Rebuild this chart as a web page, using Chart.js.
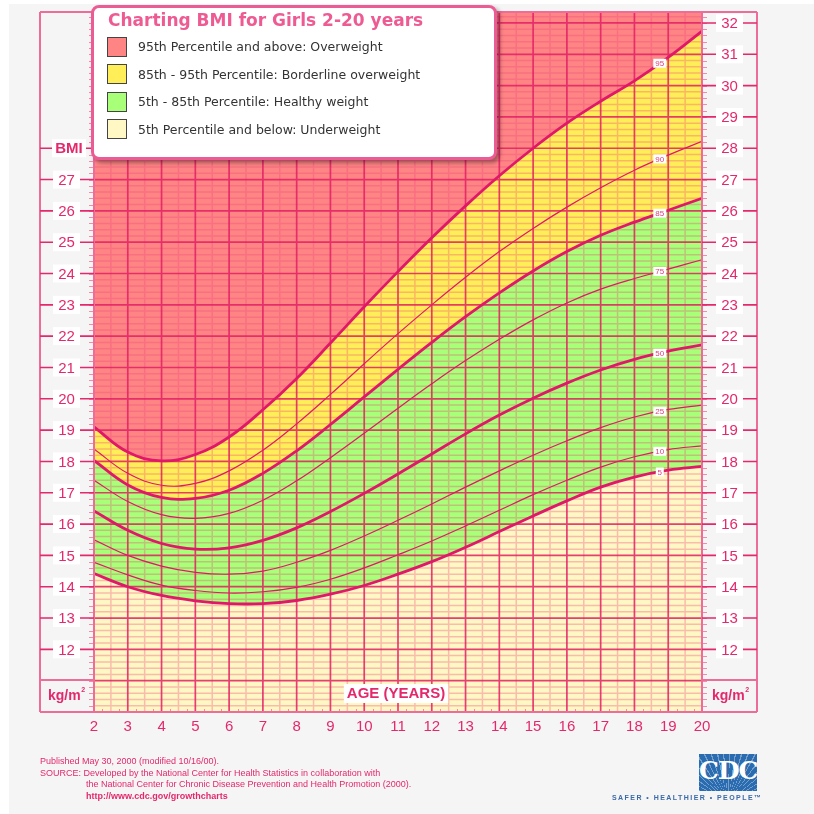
<!DOCTYPE html>
<html>
<head>
<meta charset="utf-8">
<title>Charting BMI for Girls 2-20 years</title>
<script src="https://cdn.jsdelivr.net/npm/chart.js@4.4.1/dist/chart.umd.min.js"></script>
<style>
body { margin:0; width:814px; height:814px; overflow:hidden; position:relative; background:#fff; font-family:"Liberation Sans", Arial, sans-serif; }
#page { position:absolute; left:9px; top:4px; right:0; bottom:0; background:#f5f5f5; }
#wrap { position:absolute; left:0; top:0; width:814px; height:814px; }
#legendBox { position:absolute; left:91px; top:5px; width:400px; height:149px; background:#fff; border:3px solid #ec5c94; border-radius:8px; box-shadow:3px 3px 4px rgba(0,0,0,0.35); font-family:"DejaVu Sans", Verdana, sans-serif; }
#legendBox .title { position:absolute; left:14px; top:2px; font-weight:bold; font-size:17px; line-height:20px; color:#ee5a92; white-space:nowrap; }
#legendBox .row { position:absolute; left:13px; height:21px; display:flex; align-items:center; font-size:12.5px; color:#333; white-space:nowrap; }
#legendBox .sw { width:18px; height:18px; border:1.5px solid #444; margin-right:11px; }
#footer { position:absolute; left:40px; top:756px; font-size:9px; line-height:11.7px; color:#e4286c; white-space:nowrap; }
#footer .ind { padding-left:46px; }
#cdc { position:absolute; left:699px; top:754px; width:58px; height:37px; background:#2b6cb0; overflow:hidden;
  background-image:repeating-conic-gradient(from 200deg at 50% 130%, rgba(255,255,255,0.35) 0deg 1.5deg, transparent 1.5deg 7deg); }
#cdc span { position:absolute; left:0; right:0; top:2px; text-align:center; font-family:"DejaVu Serif", "Liberation Serif", serif; font-weight:bold; font-size:25px; color:#fff; letter-spacing:-1px; }
#tag { position:absolute; left:612px; top:794px; font-weight:bold; font-size:7px; letter-spacing:1.45px; color:#3a6aa8; white-space:nowrap; }
</style>
</head>
<body>
<div id="page"></div>
<div id="wrap"><canvas id="bmiChart"></canvas></div>

<div id="legendBox">
  <div class="title">Charting BMI for Girls 2-20 years</div>
  <div class="row" style="top:28px"><div class="sw" style="background:#ff8585"></div>95th Percentile and above: Overweight</div>
  <div class="row" style="top:55.5px"><div class="sw" style="background:#ffee58"></div>85th - 95th Percentile: Borderline overweight</div>
  <div class="row" style="top:83px"><div class="sw" style="background:#a8ff78"></div>5th - 85th Percentile: Healthy weight</div>
  <div class="row" style="top:110.5px"><div class="sw" style="background:#fff7c4"></div>5th Percentile and below: Underweight</div>
</div>

<div id="footer">
  <div>Published May 30, 2000 (modified 10/16/00).</div>
  <div>SOURCE: Developed by the National Center for Health Statistics in collaboration with</div>
  <div class="ind">the National Center for Chronic Disease Prevention and Health Promotion (2000).</div>
  <div class="ind" style="font-weight:bold">http://www.cdc.gov/growthcharts</div>
</div>
<div id="cdc"><span>CDC</span></div>
<div id="tag">SAFER • HEALTHIER • PEOPLE™</div>

<script>
// age in years
var ages = [2, 3, 4, 5, 6, 7, 8, 9, 10, 11, 12, 13, 14, 15, 16, 17, 18, 19, 20];

// BMI percentiles, girls
var p5  = [14.42, 14.00, 13.72, 13.55, 13.46, 13.46, 13.56, 13.76, 14.04, 14.40, 14.80, 15.26, 15.76, 16.26, 16.74, 17.18, 17.50, 17.72, 17.84];
var p10 = [14.78, 14.38, 14.05, 13.88, 13.80, 13.84, 13.98, 14.24, 14.60, 15.02, 15.46, 15.94, 16.44, 16.94, 17.40, 17.82, 18.15, 18.38, 18.50];
var p25 = [15.50, 15.00, 14.66, 14.46, 14.40, 14.50, 14.78, 15.16, 15.62, 16.12, 16.64, 17.18, 17.70, 18.20, 18.66, 19.08, 19.42, 19.66, 19.80];
var p50 = [16.42, 15.80, 15.38, 15.20, 15.24, 15.48, 15.88, 16.40, 16.98, 17.60, 18.24, 18.88, 19.48, 20.02, 20.50, 20.92, 21.26, 21.52, 21.72];
var p75 = [17.40, 16.72, 16.30, 16.18, 16.34, 16.76, 17.38, 18.12, 18.90, 19.70, 20.48, 21.22, 21.90, 22.52, 23.06, 23.50, 23.84, 24.14, 24.44];
var p85 = [18.03, 17.25, 16.85, 16.82, 17.08, 17.62, 18.34, 19.18, 20.06, 20.94, 21.80, 22.62, 23.38, 24.08, 24.70, 25.22, 25.64, 26.02, 26.40];
var p90 = [18.40, 17.62, 17.24, 17.30, 17.70, 18.36, 19.20, 20.14, 21.12, 22.08, 23.00, 23.88, 24.70, 25.44, 26.12, 26.74, 27.30, 27.78, 28.22];
var p95 = [19.10, 18.30, 18.02, 18.22, 18.78, 19.65, 20.65, 21.78, 22.94, 24.06, 25.14, 26.16, 27.12, 28.00, 28.80, 29.50, 30.15, 30.90, 31.74];

var pctNames = ['5', '10', '25', '50', '75', '85', '90', '95'];

// tick labels
var xTicks = [2, 3, 4, 5, 6, 7, 8, 9, 10, 11, 12, 13, 14, 15, 16, 17, 18, 19, 20];
var leftTicks = [12, 13, 14, 15, 16, 17, 18, 19, 20, 21, 22, 23, 24, 25, 26, 27];
var rightTicks = [12, 13, 14, 15, 16, 17, 18, 19, 20, 21, 22, 23, 24, 25, 26, 27, 28, 29, 30, 31, 32];

var PINK = '#e4286c';
var LINE = '#e0186a';

function pts(vals) {
    var out = [];
    for (var i = 0; i < ages.length; i++) out.push({x: ages[i], y: vals[i]});
    return out;
}

var series = [p5, p10, p25, p50, p75, p85, p90, p95];
var thick = [true, false, false, true, false, true, false, true];
var fills = [5, false, false, false, false, 7, false, 'end'];
var fillColors = ['#a8ff78', null, null, null, null, '#ffee58', null, '#ff8585'];

var datasets = [];
for (var i = 0; i < series.length; i++) {
    datasets.push({
        label: pctNames[i],
        data: pts(series[i]),
        borderColor: LINE,
        borderWidth: thick[i] ? 2.8 : 1.2,
        backgroundColor: fillColors[i] || 'transparent',
        fill: fills[i],
        pointRadius: 0,
        tension: 0.4
    });
}

// grid, frame and label drawing
var bmiPaper = {
    id: 'bmiPaper',
    beforeDraw: function(chart) {
        var a = chart.chartArea, c = chart.ctx;
        c.save();
        c.fillStyle = '#fff7c4';
        c.fillRect(a.left, a.top, a.right - a.left, a.bottom - a.top);
        c.restore();
    },
    beforeDatasetsDraw: function(chart) {
        // runs after the filler, so the grid sits on top of the colour bands
        var a = chart.chartArea, c = chart.ctx, xs = chart.scales.x, ys = chart.scales.y;
        var v, k, p;
        c.save();
        c.lineWidth = 1.5;
        c.strokeStyle = 'rgba(236,70,120,0.33)';
        c.beginPath();
        for (v = 2.5; v < 20; v += 1) {
            p = xs.getPixelForValue(v);
            c.moveTo(p, a.top); c.lineTo(p, a.bottom);
        }
        for (k = 51; k <= 161; k++) {
            if (k % 5 === 0) continue;
            p = ys.getPixelForValue(k / 5);
            c.moveTo(a.left, p); c.lineTo(a.right, p);
        }
        c.stroke();

        c.lineWidth = 1.7;
        c.strokeStyle = 'rgba(226,30,100,0.85)';
        c.beginPath();
        for (v = 2; v <= 20; v++) {
            p = xs.getPixelForValue(v);
            c.moveTo(p, a.top); c.lineTo(p, a.bottom);
        }
        for (v = 11; v <= 32; v++) {
            p = ys.getPixelForValue(v);
            c.moveTo(a.left, p); c.lineTo(a.right, p);
        }
        c.stroke();
        c.restore();
    },
    afterDatasetsDraw: function(chart) {
        // little percentile tags near age 18.75
        var c = chart.ctx, xs = chart.scales.x, ys = chart.scales.y;
        var at = 18.75;
        c.save();
        c.font = '8px "Liberation Sans", Arial, sans-serif';
        c.textAlign = 'center';
        c.textBaseline = 'middle';
        for (var i = 0; i < series.length; i++) {
            var s = series[i];
            var val = s[16] + (s[17] - s[16]) * (at - 18);
            var px = xs.getPixelForValue(at), py = ys.getPixelForValue(val);
            var w = pctNames[i].length > 1 ? 13 : 8;
            c.fillStyle = '#fff';
            c.fillRect(px - w / 2, py - 4.5, w, 9);
            c.fillStyle = '#e0407a';
            c.fillText(pctNames[i], px, py + 0.5);
        }
        c.restore();
    },
    afterDraw: function(chart) {
        var a = chart.chartArea, c = chart.ctx, xs = chart.scales.x, ys = chart.scales.y;
        var i, p, k;
        var fl = 40, fr = 757, kgLine = 680;
        c.save();

        // small ticks round the plot edge
        c.strokeStyle = 'rgba(236,70,120,0.6)';
        c.lineWidth = 1;
        c.beginPath();
        for (k = 51; k <= 161; k++) {
            p = Math.round(ys.getPixelForValue(k / 5)) + 0.5;
            c.moveTo(a.left - 5, p); c.lineTo(a.left, p);
            c.moveTo(a.right, p); c.lineTo(a.right + 5, p);
        }
        for (k = 9; k < 80; k++) {
            if (k % 2 === 0) continue;
            p = Math.round(xs.getPixelForValue(k / 4)) + 0.5;
            c.moveTo(p, a.bottom - 3); c.lineTo(p, a.bottom);
        }
        c.stroke();

        // outer frame
        c.strokeStyle = '#ee6c9a';
        c.lineWidth = 2;
        c.beginPath();
        c.moveTo(fl, a.top); c.lineTo(fr, a.top);
        c.moveTo(fl, a.top); c.lineTo(fl, a.bottom);
        c.moveTo(fr, a.top); c.lineTo(fr, a.bottom);
        c.moveTo(fl, a.bottom); c.lineTo(fr, a.bottom);
        c.moveTo(fl, kgLine); c.lineTo(a.left, kgLine);
        c.moveTo(a.right, kgLine); c.lineTo(fr, kgLine);
        c.moveTo(a.left, a.top); c.lineTo(a.left, a.bottom);
        c.moveTo(a.right, a.top); c.lineTo(a.right, a.bottom);
        c.stroke();

        // y labels with dashes either side
        c.textAlign = 'center';
        c.textBaseline = 'middle';
        function yLabel(txt, y, x0, b0, b1, x1, bold) {
            c.strokeStyle = PINK;
            c.lineWidth = 1.6;
            c.beginPath();
            c.moveTo(x0, y); c.lineTo(b0, y);
            c.moveTo(b1, y); c.lineTo(x1, y);
            c.stroke();
            c.fillStyle = '#fff';
            c.fillRect(b0, y - 9, b1 - b0, 18);
            c.fillStyle = PINK;
            c.font = (bold ? 'bold ' : '') + '15px "Liberation Sans", Arial, sans-serif';
            c.fillText(txt, (b0 + b1) / 2, y + 1);
        }
        for (i = 0; i < leftTicks.length; i++) {
            yLabel(String(leftTicks[i]), ys.getPixelForValue(leftTicks[i]), fl, 53, 80, a.left);
        }
        yLabel('BMI', ys.getPixelForValue(28), fl, 52, 86, a.left, true);
        for (i = 0; i < rightTicks.length; i++) {
            yLabel(String(rightTicks[i]), ys.getPixelForValue(rightTicks[i]), a.right, 716, 743, fr);
        }

        // x labels
        c.fillStyle = PINK;
        c.font = '15px "Liberation Sans", Arial, sans-serif';
        for (i = 0; i < xTicks.length; i++) {
            c.fillText(String(xTicks[i]), xs.getPixelForValue(xTicks[i]), 727);
        }

        // units, kg/m with a small raised 2
        c.font = 'bold 14px "Liberation Sans", Arial, sans-serif';
        c.textAlign = 'left';
        var uw = c.measureText('kg/m').width;
        c.fillText('kg/m', 48, 696);
        c.fillText('kg/m', 712, 696);
        c.font = 'bold 7px "Liberation Sans", Arial, sans-serif';
        c.fillText('2', 48 + uw + 0.5, 690);
        c.fillText('2', 712 + uw + 0.5, 690);

        // axis title in the plot
        c.font = 'bold 15px "Liberation Sans", Arial, sans-serif';
        var t = 'AGE (YEARS)', tw = c.measureText(t).width, cx = 396;
        c.fillStyle = '#fff';
        c.fillRect(cx - tw / 2 - 3, 684, tw + 6, 19);
        c.fillStyle = PINK;
        c.textAlign = 'center';
        c.fillText(t, cx, 694);
        c.restore();
    }
};

var ctx = document.getElementById('bmiChart');
var bmiChart = new Chart(ctx, {
    type: 'line',
    data: { datasets: datasets },
    options: {
        responsive: true,
        maintainAspectRatio: false,
        animation: false,
        events: [],
        layout: { padding: { left: 94, right: 112, top: 12, bottom: 102 } },
        scales: {
            x: { type: 'linear', min: 2, max: 20, display: false },
            y: { type: 'linear', min: 10, max: 32.35, display: false }
        },
        plugins: {
            legend: { display: false },
            tooltip: { enabled: false },
            filler: { drawTime: 'beforeDatasetsDraw' }
        }
    },
    plugins: [bmiPaper]
});
</script>
</body>
</html>
